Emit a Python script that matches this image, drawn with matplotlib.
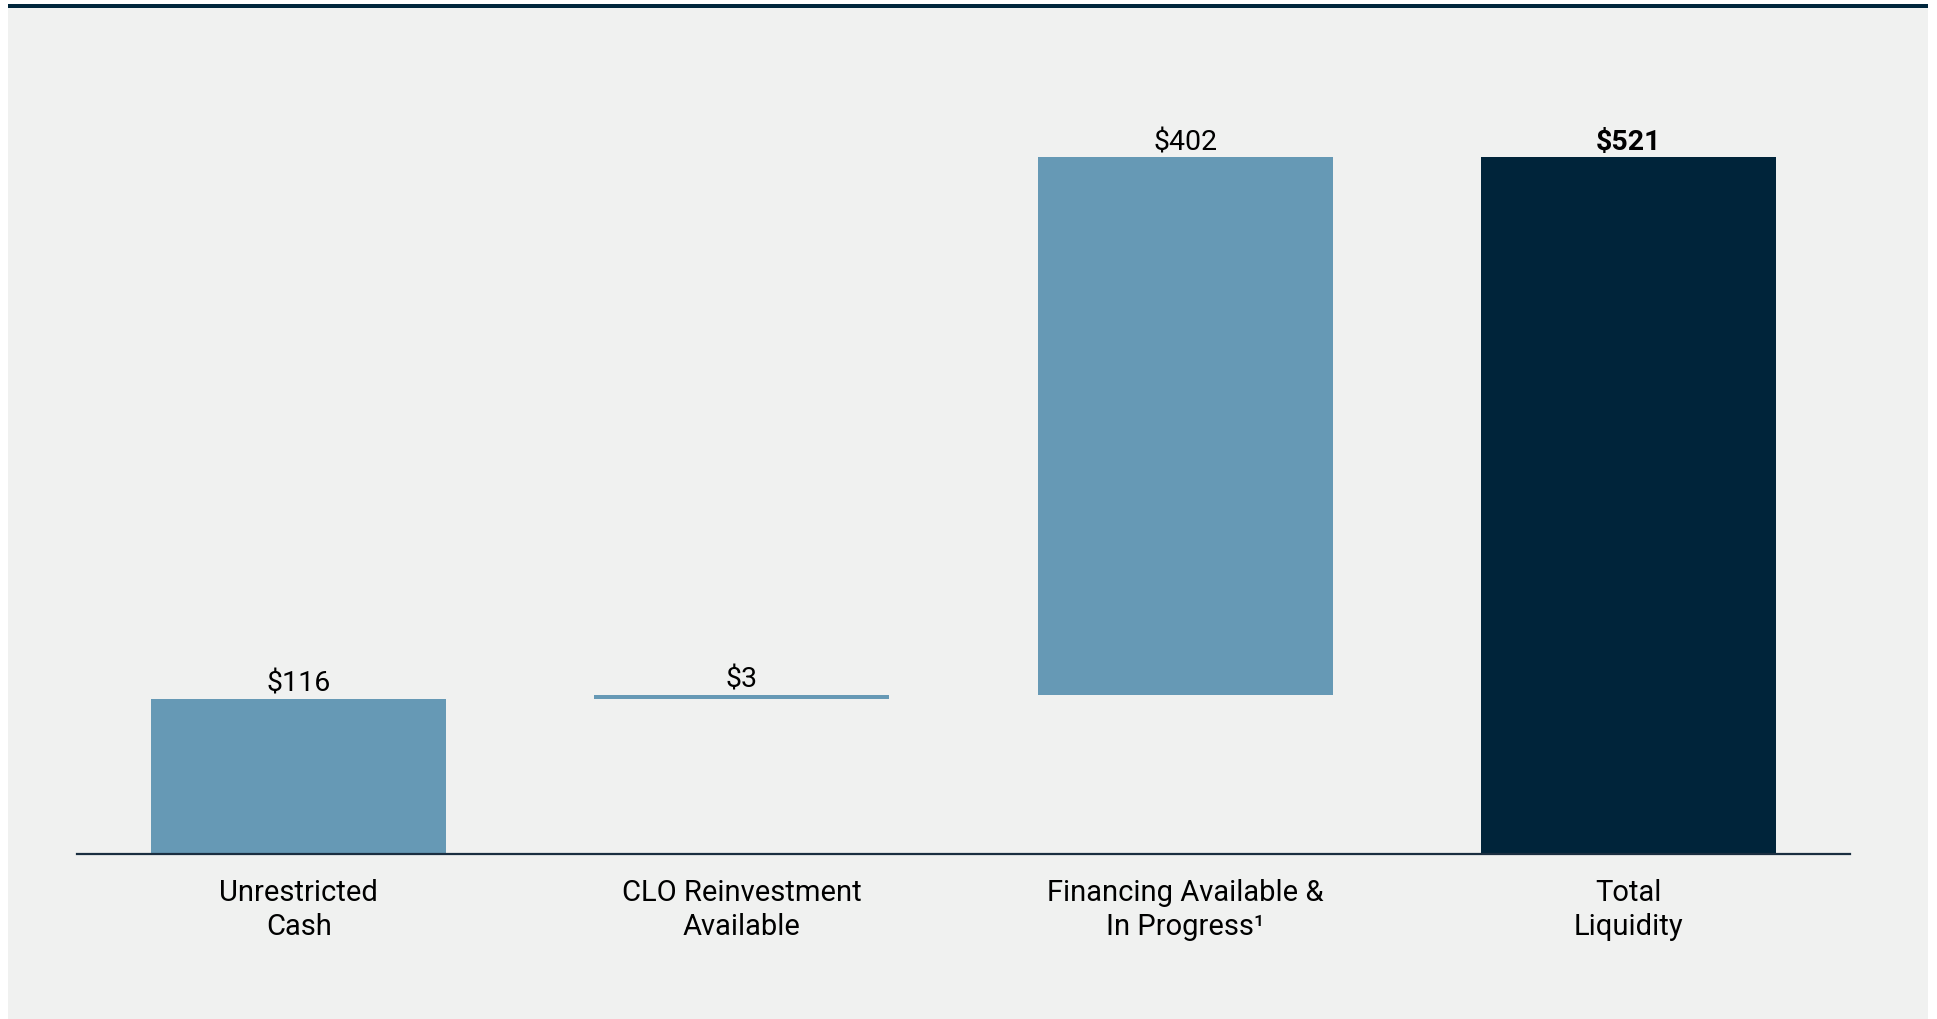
import numpy as np
import matplotlib.pyplot as plt
from matplotlib.patches import Rectangle

plt.rcParams['font.family'] = ['Roboto', 'DejaVu Sans']

categories = ['Unrestricted\nCash', 'CLO Reinvestment\nAvailable',
              'Financing Available &\nIn Progress\u00b9', 'Total\nLiquidity']
values = [116, 3, 402]
total = sum(values)

light = '#6699b5'
dark = '#00243a'
panel = '#f0f1f0'

W, H = 1937, 1019
fig = plt.figure(figsize=(W / 100, H / 100), dpi=100, facecolor='white')

# grey panel with a dark rule across the top, kept behind the axes
fig.patches.append(Rectangle((8 / W, 0), 1920 / W, 1 - 8 / H,
                             transform=fig.transFigure, facecolor=panel,
                             edgecolor='none', zorder=-2))
fig.patches.append(Rectangle((8 / W, 1 - 8 / H), 1920 / W, 4 / H,
                             transform=fig.transFigure, facecolor='#00263c',
                             edgecolor='none', zorder=-2))

ax = fig.add_axes([77 / W, 1 - 854 / H, (1850 - 77) / W, (854 - 157) / H])
ax.set_facecolor('none')

# waterfall: each step starts where the previous one ended
bottoms = list(np.concatenate([[0], np.cumsum(values)[:-1]])) + [0]
heights = values + [total]
colors = [light, light, light, dark]
x = np.arange(len(categories))

ax.bar(x, heights, bottom=bottoms, width=0.665, color=colors, zorder=2)

for i, (b, h) in enumerate(zip(bottoms, heights)):
    ax.annotate(f'${h}', (x[i], b + h), xytext=(0, 5), textcoords='offset points',
                ha='center', va='baseline', fontsize=20.5,
                fontweight='bold' if i == len(heights) - 1 else 'normal',
                color='black')

ax.set_xlim(-0.5, 3.5)
ax.set_ylim(0, total)
ax.set_xticks(x)
ax.set_xticklabels(categories, fontsize=21, linespacing=1.27)
ax.tick_params(axis='x', length=0, pad=18)
ax.set_yticks([])
for s in ['top', 'right', 'left']:
    ax.spines[s].set_visible(False)
ax.spines['bottom'].set_color('#1a2e40')
ax.spines['bottom'].set_linewidth(1.6)
ax.spines['bottom'].set_zorder(3)

fig.savefig('out.png', dpi=100, facecolor='white')
